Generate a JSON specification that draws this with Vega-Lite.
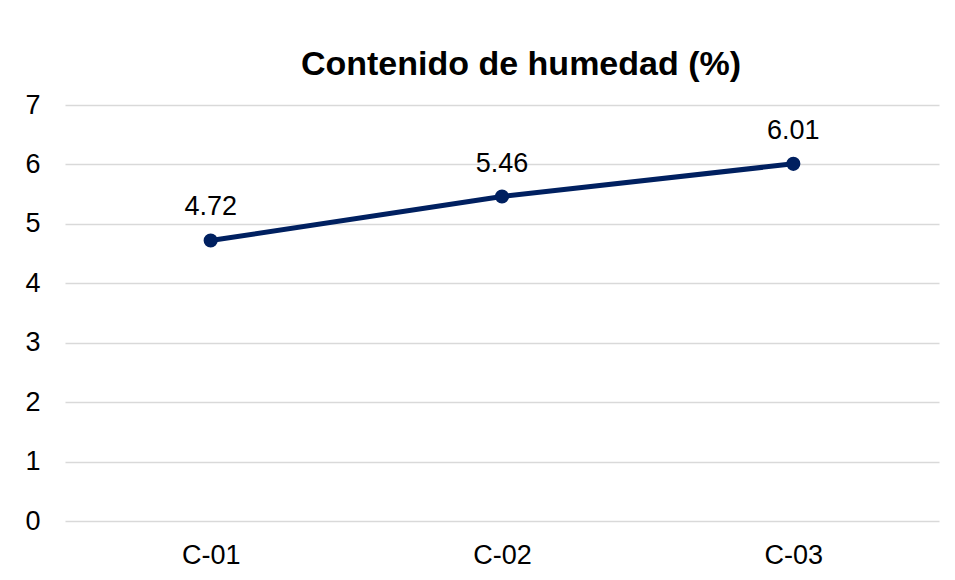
{
  "$schema": "https://vega.github.io/schema/vega-lite/v6.json",
  "autosize": "none",
  "width": 874,
  "height": 416,
  "padding": {"left": 65, "top": 105, "right": 16, "bottom": 59},
  "background": "white",
  "title": {
    "text": "Contenido de humedad (%)",
    "font": "Liberation Sans",
    "fontSize": 34,
    "fontWeight": "bold",
    "color": "#000000",
    "anchor": "middle",
    "dx": 19,
    "dy": 50,
    "baseline": "alphabetic",
    "offset": 32
  },
  "data": {
    "values": [
      {"muestra": "C-01", "humedad": 4.72},
      {"muestra": "C-02", "humedad": 5.46},
      {"muestra": "C-03", "humedad": 6.01}
    ]
  },
  "encoding": {
    "x": {
      "field": "muestra",
      "type": "nominal",
      "sort": null,
      "scale": {"paddingInner": 0, "paddingOuter": 0.5},
      "axis": {
        "title": null,
        "labelAngle": 0,
        "domain": false,
        "ticks": false,
        "grid": false,
        "labelFont": "Liberation Sans",
        "labelFontSize": 27,
        "labelColor": "#000000",
        "labelPadding": 21
      }
    },
    "y": {
      "field": "humedad",
      "type": "quantitative",
      "scale": {"domain": [0, 7], "nice": false},
      "axis": {
        "title": null,
        "values": [0, 1, 2, 3, 4, 5, 6, 7],
        "domain": false,
        "ticks": false,
        "gridColor": "#d9d9d9",
        "gridWidth": 1.5,
        "labelFont": "Liberation Sans",
        "labelFontSize": 27,
        "labelColor": "#000000",
        "labelPadding": 25
      }
    }
  },
  "layer": [
    {
      "mark": {"type": "line", "color": "#002060", "strokeWidth": 5}
    },
    {
      "mark": {"type": "point", "filled": true, "color": "#002060", "size": 200, "opacity": 1}
    },
    {
      "mark": {"type": "text", "font": "Liberation Sans", "fontSize": 27, "color": "#000000", "baseline": "alphabetic", "dy": -25},
      "encoding": {"text": {"field": "humedad", "type": "quantitative", "format": ".2f"}}
    }
  ],
  "config": {"view": {"stroke": null}}
}
